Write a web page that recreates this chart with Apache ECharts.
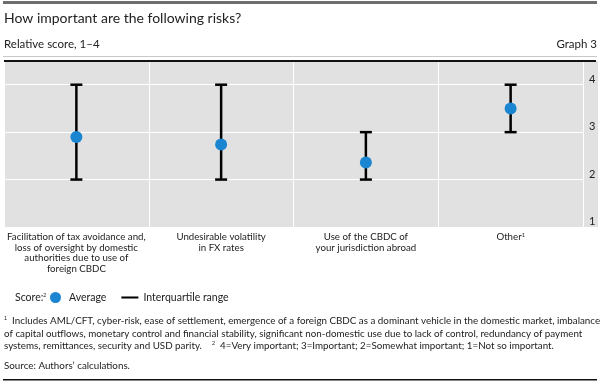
<!DOCTYPE html>
<html>
	<head>
		<meta charset="utf-8" />
		<title>How important are the following risks?</title>
		<script type="text/javascript" src="https://cdn.jsdelivr.net/npm/echarts@6/dist/echarts.min.js"></script>
		<style>
			html, body { margin: 0; padding: 0; background: #fff; }
			#main { width: 600px; height: 386px; }
		</style>
	</head>
	<body>
		<div id="main"></div>
		<script type="text/javascript">
		var categories = [
			'Facilitation of tax avoidance and,\nloss of oversight by domestic\nauthorities due to use of\nforeign CBDC',
			'Undesirable volatility\nin FX rates',
			'Use of the CBDC of\nyour jurisdiction abroad',
			'Other{sup|1}'
		];
		var average = [2.9, 2.74, 2.36, 3.5];
		var iqrLow = [2, 2, 2, 3];
		var iqrHigh = [4, 4, 3, 4];
		var yTicks = [1, 2, 3, 4];

		var FONT = 'Lato';
		var footnotes = [
			'Includes AML/CFT, cyber-risk, ease of settlement, emergence of a foreign CBDC as a dominant vehicle in the domestic market, imbalance',
			'of capital outflows, monetary control and financial stability, significant non-domestic use due to lack of control, redundancy of payment',
			'systems, remittances, security and USD parity.'
		];

		var rangeData = [];
		for (var i = 0; i < categories.length; i++) {
			rangeData.push([i, iqrLow[i], iqrHigh[i]]);
		}

		var myChart = echarts.init(document.getElementById('main'));

		var option = {
			animation: false,
			textStyle: { fontFamily: FONT },
			grid: {
				left: 4,
				right: 17,
				top: 61,
				bottom: 159,
				show: true,
				backgroundColor: '#e1e1e1',
				borderWidth: 0
			},
			legend: {
				left: 50,
				top: 292,
				padding: 0,
				itemWidth: 17,
				itemHeight: 11,
				itemGap: 15,
				textStyle: { fontFamily: FONT, fontSize: 10.5, color: '#222' },
				data: [
					{ name: 'Average', icon: 'circle' },
					{ name: 'Interquartile range', icon: 'path://M0,0H20V2.4H0Z' }
				]
			},
			xAxis: {
				type: 'category',
				data: categories,
				boundaryGap: true,
				axisLine: { show: false },
				axisTick: { show: false },
				splitLine: { show: true, lineStyle: { color: '#fff', width: 1 } },
				axisLabel: {
					interval: 0,
					margin: 5,
					fontSize: 9.7,
					lineHeight: 10.5,
					color: '#222',
					align: 'center',
					rich: {
						sup: { fontSize: 5.5, verticalAlign: 'top', lineHeight: 10.5, padding: [0, 0, 5, 0] }
					}
				}
			},
			yAxis: {
				type: 'value',
				position: 'right',
				min: 1,
				max: 4.5,
				interval: 1,
				axisLine: { show: false },
				axisTick: { show: false },
				splitLine: { show: true, lineStyle: { color: '#fff', width: 1 } },
				axisLabel: {
					margin: 6,
					fontSize: 11,
					color: '#222',
					verticalAlign: 'bottom',
					formatter: function (v) {
						return yTicks.indexOf(v) >= 0 ? String(v) : '';
					}
				}
			},
			series: [
				{
					name: 'Interquartile range',
					type: 'custom',
					itemStyle: { color: '#000' },
					renderItem: function (params, api) {
						var x = api.value(0);
						var lo = api.coord([x, api.value(1)]);
						var hi = api.coord([x, api.value(2)]);
						var w = 6;
						var st = { stroke: '#000', lineWidth: 2.5 };
						return {
							type: 'group',
							children: [
								{ type: 'line', shape: { x1: lo[0], y1: lo[1], x2: hi[0], y2: hi[1] }, style: st },
								{ type: 'line', shape: { x1: lo[0] - w, y1: lo[1], x2: lo[0] + w, y2: lo[1] }, style: st },
								{ type: 'line', shape: { x1: hi[0] - w, y1: hi[1], x2: hi[0] + w, y2: hi[1] }, style: st }
							]
						};
					},
					encode: { x: 0, y: [1, 2] },
					data: rangeData,
					z: 2
				},
				{
					name: 'Average',
					type: 'scatter',
					symbolSize: 12,
					itemStyle: { color: '#1a85d0', opacity: 1 },
					data: average,
					z: 3
				}
			],
			graphic: [
				// top heavy rule
				{ type: 'rect', shape: { x: 3, y: 1, width: 594, height: 3 }, style: { fill: '#6e6e6e' } },
				{ type: 'text', left: 4, top: 11, style: { text: 'How important are the following risks?', font: '14px "' + FONT + '"', fill: '#222' } },
				{ type: 'text', left: 4, top: 38, style: { text: 'Relative score, 1\u20134', font: '11.5px "' + FONT + '"', fill: '#222' } },
				{ type: 'text', right: 3, top: 38, style: { text: 'Graph 3', font: '11.5px "' + FONT + '"', fill: '#222' } },
				{ type: 'rect', shape: { x: 3, y: 56, width: 594, height: 1 }, style: { fill: '#c8c8c8' } },
				// grey strip behind right axis labels
				{ type: 'rect', z: -10, shape: { x: 583, y: 61, width: 15, height: 166 }, style: { fill: '#e1e1e1' } },
				{ type: 'rect', z: 10, shape: { x: 4, y: 60, width: 592, height: 2 }, style: { fill: '#111' } },
				{
					type: 'text', left: 15, top: 292,
					style: {
						text: 'Score:{s|2}',
						font: '10.5px "' + FONT + '"', fill: '#222',
						rich: { s: { fontSize: 5.5, verticalAlign: 'top', padding: [0, 0, 6, 0] } }
					}
				},
				{
					type: 'text', left: 4, top: 315,
					style: {
						text: '{s|1}  ' + footnotes[0] + '\n' + footnotes[1] + '\n' + footnotes[2] + '    {s|2}  4=Very important; 3=Important; 2=Somewhat important; 1=Not so important.',
						font: '9.8px "' + FONT + '"', fill: '#222', lineHeight: 12.5,
						rich: { s: { fontSize: 5.5, verticalAlign: 'top', lineHeight: 12.5, padding: [0, 0, 5, 0] } }
					}
				},
				{ type: 'text', left: 4, top: 361, style: { text: 'Source: Authors\u2019 calculations.', font: '9.8px "' + FONT + '"', fill: '#222' } },
				{ type: 'rect', shape: { x: 3, y: 379, width: 594, height: 1.5 }, style: { fill: '#111' } }
			]
		};

		myChart.setOption(option);
		</script>
	</body>
</html>
